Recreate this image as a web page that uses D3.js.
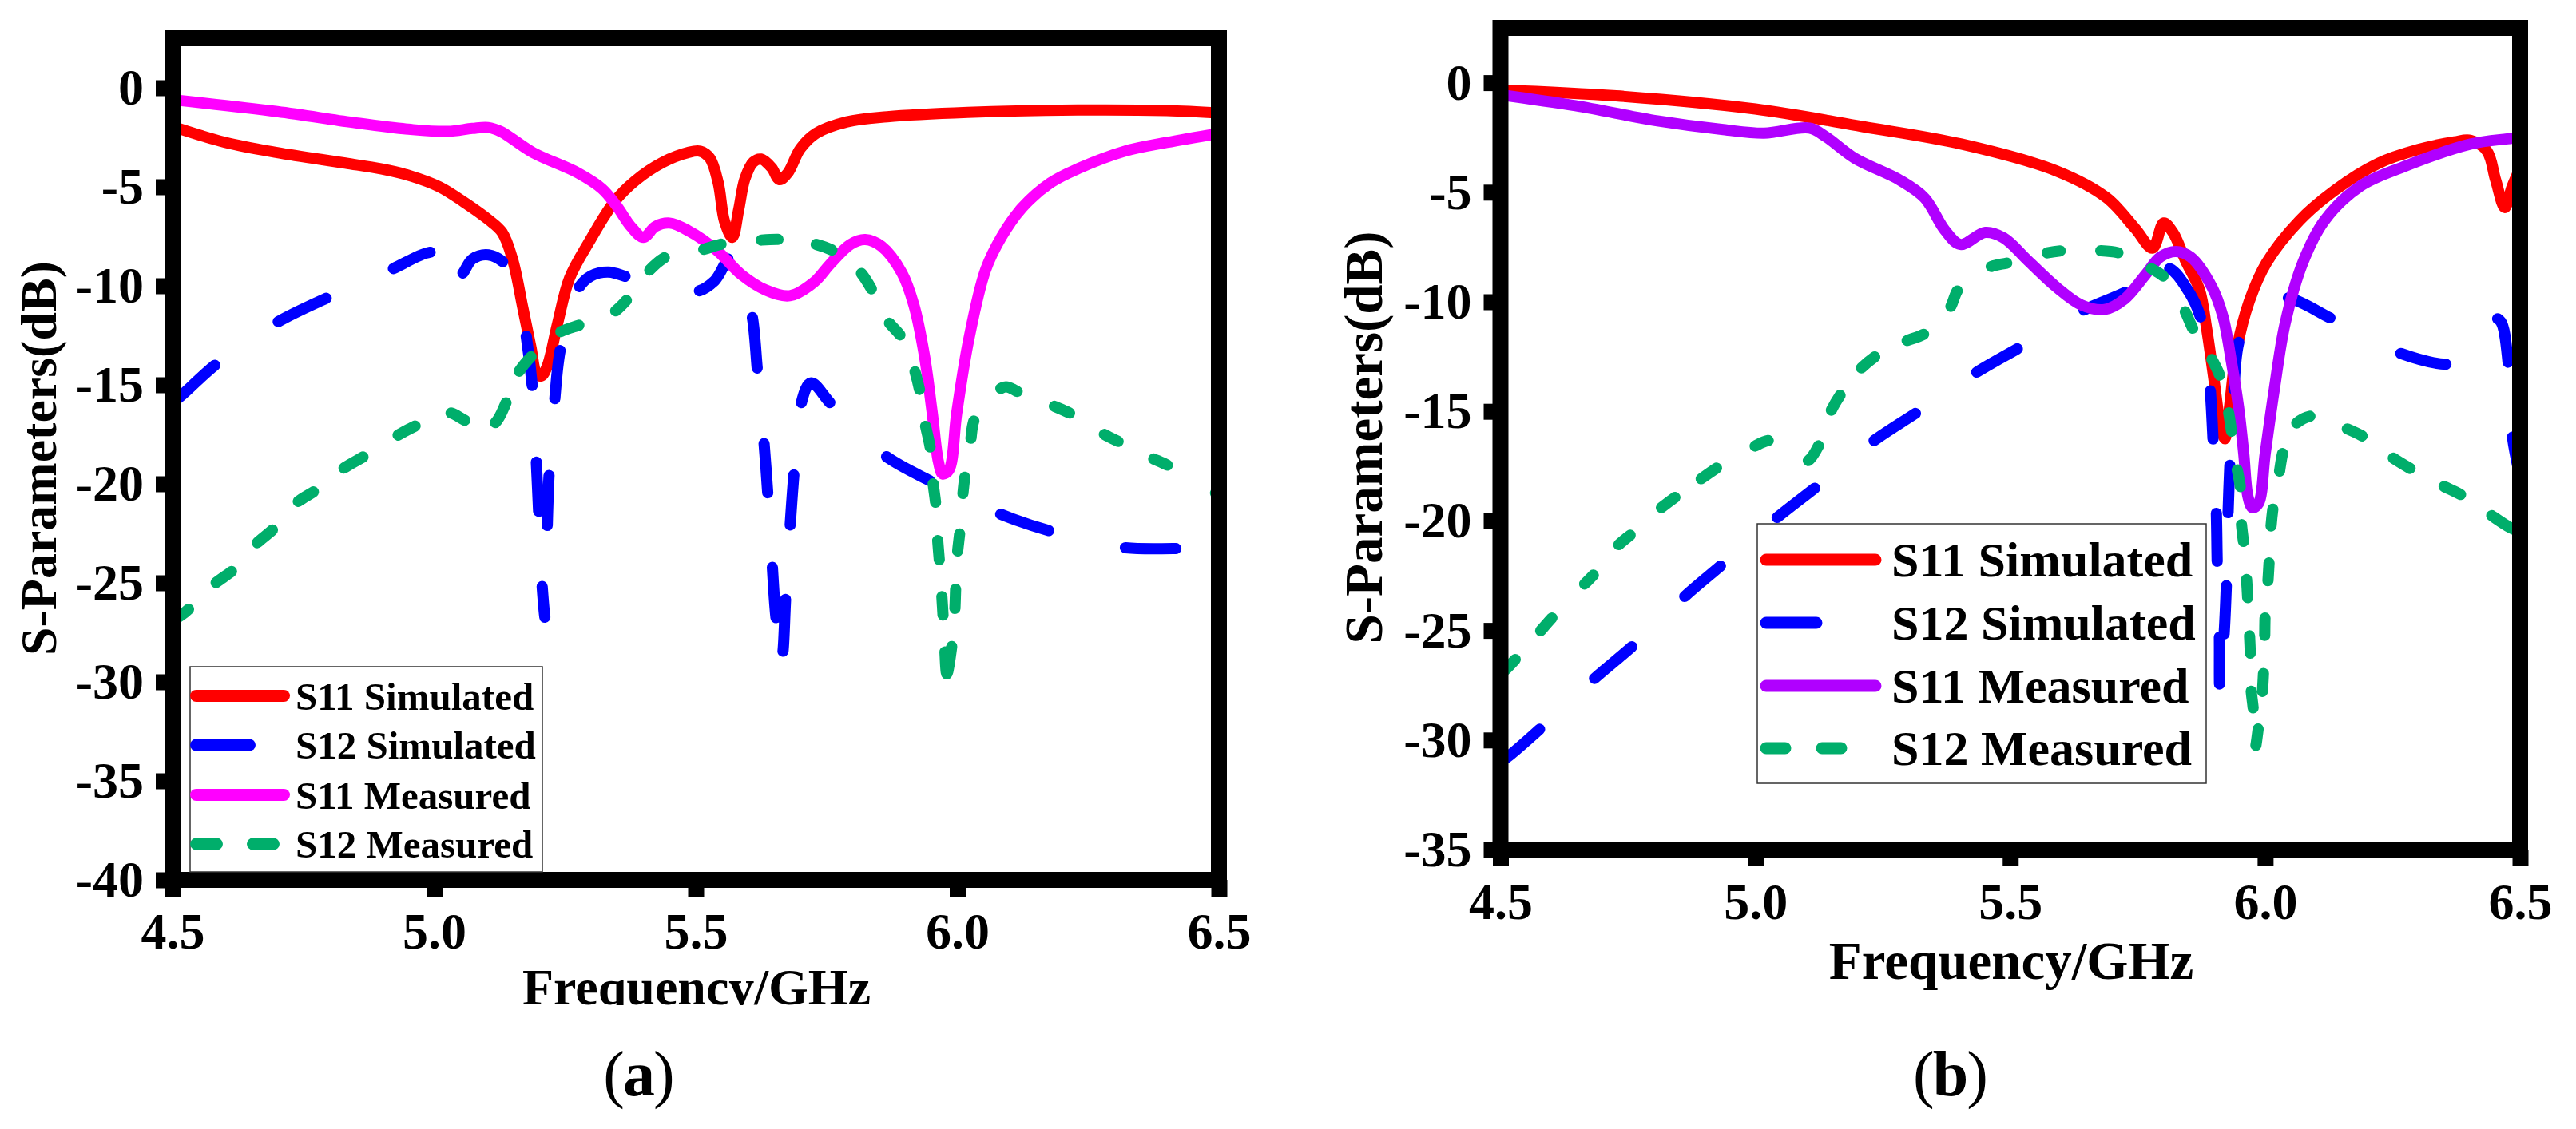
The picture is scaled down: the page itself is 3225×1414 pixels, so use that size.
<!DOCTYPE html>
<html>
<head>
<meta charset="utf-8">
<script src="https://cdn.jsdelivr.net/npm/d3@7"></script>
<style>
    body { margin: 0; background: #fff; }
    text { font-family: "Liberation Serif", serif; font-weight: bold; fill: #000; }
</style>
</head>
<body>
<div class="container"></div>
<script>

// DATA : [frequency GHz, dB]
const xTicks = [4.5, 5.0, 5.5, 6.0, 6.5];
const yTicksA = [0, -5, -10, -15, -20, -25, -30, -35, -40];
const yTicksB = [0, -5, -10, -15, -20, -25, -30, -35];
const names = ["S11 Simulated", "S12 Simulated", "S11 Measured", "S12 Measured"];

const s11SimA = [[4.5,-1.95],[4.6,-2.75],[4.7,-3.27],[4.83,-3.8],[4.9,-4.1],[4.955,-4.45],[5.01,-5.0],[5.057,-5.77],[5.103,-6.64],[5.13,-7.3],[5.15,-8.67],[5.17,-11.17],[5.185,-13.1],[5.196,-14.45],[5.205,-14.55],[5.216,-14.07],[5.236,-11.9],[5.259,-9.6],[5.298,-7.7],[5.344,-5.77],[5.384,-4.7],[5.438,-3.75],[5.485,-3.27],[5.508,-3.2],[5.527,-3.55],[5.543,-4.8],[5.555,-6.73],[5.57,-7.55],[5.582,-6.17],[5.594,-4.6],[5.61,-3.75],[5.625,-3.6],[5.645,-4.03],[5.66,-4.64],[5.676,-4.3],[5.7,-3.07],[5.73,-2.3],[5.789,-1.72],[5.866,-1.46],[6.02,-1.24],[6.23,-1.12],[6.4,-1.15],[6.5,-1.27]];
const s12SimA = [[4.5,-15.9],[4.516,-15.56],[4.586,-13.9],[4.696,-11.9],[4.8,-10.55],[4.916,-9.2],[5.0,-8.3],[5.03,-8.9],[5.05,-9.45],[5.073,-8.65],[5.104,-8.44],[5.136,-8.9],[5.16,-10.2],[5.175,-12.36],[5.188,-15.2],[5.195,-18.7],[5.2,-21.56],[5.206,-25],[5.213,-26.9],[5.216,-22.3],[5.22,-19.4],[5.23,-15.9],[5.242,-13.1],[5.274,-10.2],[5.3,-9.5],[5.332,-9.3],[5.371,-9.56],[5.44,-10.05],[5.5,-10.3],[5.536,-9.75],[5.567,-8.55],[5.585,-9.4],[5.607,-11.4],[5.618,-14.3],[5.63,-17.75],[5.638,-20.6],[5.646,-24],[5.654,-26.9],[5.665,-28.65],[5.672,-25.7],[5.68,-22.3],[5.688,-19.4],[5.7,-16.1],[5.72,-14.9],[5.76,-16],[5.858,-18.5],[5.952,-19.9],[6.075,-21.45],[6.18,-22.4],[6.313,-23.2],[6.423,-23.27],[6.5,-23.3]];
const s11MeasA = [[4.5,-0.6],[4.7,-1.2],[4.845,-1.75],[4.955,-2.1],[5.026,-2.2],[5.073,-2.05],[5.103,-2.0],[5.127,-2.2],[5.189,-3.27],[5.275,-4.3],[5.321,-5.1],[5.349,-5.97],[5.376,-7],[5.4,-7.55],[5.423,-7],[5.45,-6.83],[5.485,-7.2],[5.54,-8.2],[5.587,-9.43],[5.633,-10.2],[5.68,-10.5],[5.726,-9.82],[5.758,-8.87],[5.796,-7.9],[5.824,-7.66],[5.855,-8],[5.894,-9.34],[5.917,-10.97],[5.937,-13.5],[5.952,-16.4],[5.964,-18.9],[5.972,-19.5],[5.984,-19.3],[5.999,-16.4],[6.022,-12.7],[6.054,-9.2],[6.085,-7.5],[6.124,-6.05],[6.178,-4.8],[6.232,-4.07],[6.32,-3.2],[6.4,-2.76],[6.5,-2.3]];
const s12MeasA = [[4.5,-26.9],[4.516,-26.65],[4.536,-26.2],[4.578,-25.1],[4.618,-24.3],[4.657,-23.1],[4.696,-22.2],[4.735,-21],[4.775,-20.3],[4.822,-19.3],[4.87,-18.55],[4.925,-17.63],[4.97,-17],[5.026,-16.4],[5.065,-16.85],[5.112,-17],[5.14,-15.75],[5.159,-14.47],[5.19,-13.45],[5.236,-12.4],[5.283,-11.93],[5.341,-11.37],[5.372,-10.6],[5.407,-9.34],[5.446,-8.5],[5.508,-8.2],[5.555,-7.86],[5.618,-7.7],[5.664,-7.66],[5.723,-7.86],[5.766,-8.27],[5.812,-9.23],[5.839,-10.3],[5.866,-11.73],[5.894,-12.62],[5.917,-14.15],[5.929,-15.4],[5.938,-16.9],[5.949,-18.3],[5.953,-19.8],[5.959,-21.1],[5.962,-22.66],[5.966,-24],[5.97,-25.5],[5.973,-26.8],[5.976,-28.3],[5.98,-29.6],[5.99,-28.06],[5.995,-26.5],[5.997,-25.16],[6.0,-23.6],[6.005,-22.36],[6.01,-20.7],[6.015,-19.5],[6.025,-17.9],[6.034,-16.67],[6.077,-15.3],[6.093,-15.1],[6.12,-15.4],[6.178,-16],[6.22,-16.5],[6.274,-17.4],[6.313,-17.93],[6.368,-18.65],[6.407,-19.13],[6.486,-20.4],[6.5,-20.5]];

const s11SimB = [[4.5,-0.33],[4.727,-0.6],[5.0,-1.2],[5.21,-2],[5.404,-2.8],[5.591,-4.03],[5.689,-5.25],[5.745,-6.65],[5.779,-7.55],[5.801,-6.4],[5.819,-6.83],[5.844,-8.13],[5.871,-9.44],[5.885,-11.2],[5.899,-13.46],[5.913,-15.73],[5.921,-16.25],[5.928,-15.2],[5.944,-12.2],[5.969,-9.96],[6.003,-8.2],[6.067,-6.3],[6.137,-4.9],[6.222,-3.68],[6.3,-3.05],[6.371,-2.7],[6.403,-2.63],[6.435,-3.12],[6.452,-4.44],[6.47,-5.7],[6.484,-4.76],[6.5,-3.9]];
const s12SimB = [[4.5,-31],[4.518,-30.7],[4.582,-29.4],[4.679,-27.3],[4.763,-25.63],[4.856,-23.56],[4.937,-21.95],[5.037,-19.95],[5.122,-18.4],[5.227,-16.43],[5.32,-15.0],[5.428,-13.3],[5.52,-12.06],[5.638,-10.45],[5.731,-9.5],[5.807,-8.45],[5.85,-9.53],[5.875,-10.84],[5.885,-12.2],[5.892,-13.9],[5.898,-16.42],[5.904,-19.48],[5.906,-22],[5.91,-25.14],[5.911,-27.6],[5.919,-25.33],[5.924,-22.8],[5.927,-19.8],[5.931,-17.3],[5.938,-14.16],[5.95,-11.7],[5.985,-10.1],[6.039,-9.8],[6.133,-10.8],[6.259,-12.3],[6.361,-12.85],[6.41,-12.5],[6.43,-11.5],[6.449,-10.75],[6.462,-10.9],[6.477,-12.9],[6.484,-16],[6.5,-18]];
const s11MeasB = [[4.5,-0.55],[4.647,-1.05],[4.808,-1.74],[4.937,-2.14],[5.017,-2.3],[5.106,-2.07],[5.138,-2.46],[5.195,-3.45],[5.283,-4.44],[5.332,-5.26],[5.372,-6.74],[5.402,-7.38],[5.451,-6.83],[5.487,-7.08],[5.535,-8.13],[5.591,-9.34],[5.64,-10.15],[5.685,-10.35],[5.724,-9.88],[5.766,-8.74],[5.794,-7.96],[5.825,-7.7],[5.854,-7.96],[5.896,-9.34],[5.917,-10.66],[5.934,-12.76],[5.948,-14.85],[5.958,-16.94],[5.966,-18.87],[5.975,-19.4],[5.987,-19.2],[6.0,-16.94],[6.018,-13.98],[6.039,-11.0],[6.074,-8.2],[6.116,-6.3],[6.186,-4.73],[6.27,-3.85],[6.403,-2.8],[6.484,-2.53],[6.5,-2.45]];
const s12MeasB = [[4.5,-27],[4.518,-26.6],[4.534,-26.2],[4.574,-25.14],[4.606,-24.3],[4.66,-23],[4.687,-22.35],[4.727,-21.2],[4.76,-20.54],[4.81,-19.5],[4.848,-18.83],[4.888,-18.17],[4.93,-17.5],[4.993,-16.66],[5.033,-16.33],[5.098,-17.3],[5.127,-16.43],[5.146,-15.1],[5.17,-14.13],[5.203,-13.14],[5.24,-12.42],[5.291,-11.83],[5.336,-11.4],[5.38,-10.35],[5.4,-9.37],[5.456,-8.45],[5.5,-8.2],[5.565,-7.8],[5.605,-7.66],[5.67,-7.66],[5.718,-7.8],[5.77,-8.4],[5.805,-8.94],[5.84,-10.3],[5.861,-11.35],[5.892,-12.48],[5.913,-13.5],[5.927,-14.9],[5.935,-16.07],[5.944,-17.5],[5.952,-18.6],[5.953,-20],[5.958,-21.1],[5.963,-22.5],[5.966,-23.67],[5.969,-25.07],[5.971,-26.2],[5.972,-27.6],[5.977,-28.7],[5.98,-30.4],[5.987,-29.35],[5.994,-27.96],[5.997,-26.8],[5.999,-25.4],[6.0,-24.27],[6.005,-22.9],[6.008,-21.75],[6.011,-20.4],[6.016,-19.3],[6.027,-17.9],[6.036,-16.77],[6.057,-15.64],[6.095,-15.2],[6.154,-15.73],[6.196,-16.2],[6.245,-17.04],[6.29,-17.68],[6.344,-18.35],[6.389,-18.87],[6.438,-19.66],[6.48,-20.3],[6.5,-20.5]];

// COLORS
const RED = "#ff0000", BLUE = "#0000ff", MAGENTA = "#ff00ff", PURPLE = "#b000ff", GREEN = "#00ae6b";

// how much shorter than the read dash ends each drawn dash is, round caps add it back
const DASH_TRIM = 9;

// CANVAS
const canvas = d3.select(".container").append("svg")
    .attr("width", 3225)
    .attr("height", 1414)
    .attr("viewBox", "0 0 3225 1414")
    .style("display", "block");

canvas.append("rect").attr("width", 3225).attr("height", 1414).attr("fill", "#fff");

// turns [first point, last point] runs into a stroke-dasharray for one path
function dashFrom(runs, values, line, g) {
    const probe = g.append("path").attr("fill", "none");
    const lengthAt = i => {
        probe.attr("d", line(values.slice(0, i + 1)));
        return probe.node().getTotalLength();
    };
    const parts = [];
    runs.forEach((r, k) => {
        parts.push(lengthAt(r[1]) - lengthAt(r[0]) - DASH_TRIM);
        parts.push(k < runs.length - 1 ? lengthAt(runs[k + 1][0]) - lengthAt(r[1]) + DASH_TRIM : 9999);
    });
    probe.remove();
    return parts.map(v => v.toFixed(1)).join(" ");
}

// PANEL
function drawPanel(p) {
    const xScale = d3.scaleLinear().domain([4.5, 6.5]).range([p.left, p.right]);
    const yScale = d3.scaleLinear().domain([p.yMin, 2.5]).range([p.bottom, p.top]);
    const line = d3.line()
        .x(d => xScale(d[0]))
        .y(d => yScale(d[1]))
        .curve(d3.curveCatmullRom.alpha(0.5));

    const g = canvas.append("g");

    // SERIES
    p.series.forEach(s => {
        g.append("path")
            .attr("d", line(s.values))
            .attr("fill", "none")
            .attr("stroke", s.color)
            .attr("stroke-width", 14)
            .attr("stroke-linecap", "round")
            .attr("stroke-linejoin", "round")
            .attr("stroke-dasharray", s.runs ? dashFrom(s.runs, s.values, line, g) : null)
            .attr("stroke-dashoffset", s.runs ? -DASH_TRIM / 2 : null);
    });

    // AXES
    const xAxis = d3.axisBottom(xScale).tickValues(xTicks).tickSize(21).tickPadding(p.xPad).tickFormat(d3.format(".1f"));
    const yAxis = d3.axisLeft(yScale).tickValues(p.yTicks).tickSize(21).tickPadding(p.yPad).tickFormat(d => String(d));
    [g.append("g").attr("transform", `translate(0, ${p.bottom})`).call(xAxis),
     g.append("g").attr("transform", `translate(${p.left}, 0)`).call(yAxis)].forEach(a => {
        a.select(".domain").remove();
        a.selectAll("line").attr("stroke", "#000").attr("stroke-width", 20);
        a.selectAll("text").style("font-size", "64px").style("font-family", "'Liberation Serif', serif");
    });

    // FRAME
    g.append("rect")
        .attr("x", p.left).attr("y", p.top)
        .attr("width", p.right - p.left).attr("height", p.bottom - p.top)
        .attr("fill", "none").attr("stroke", "#000").attr("stroke-width", 20);

    // AXIS LABELS
    const xLabel = g.append("text")
        .attr("x", p.xLabelX).attr("y", p.xLabelY)
        .attr("text-anchor", "middle")
        .style("font-size", p.labelSize + "px")
        .text("Frequency/GHz");
    if (p.xLabelClip) {
        const id = "clip" + p.caption[1];
        g.append("clipPath").attr("id", id).append("rect")
            .attr("x", p.left).attr("y", p.xLabelY - 80)
            .attr("width", p.right - p.left).attr("height", 80 + p.xLabelClip);
        xLabel.attr("clip-path", `url(#${id})`);
    }
    g.append("text")
        .attr("transform", `translate(${p.yLabelX}, ${p.yLabelY}) rotate(-90)`)
        .attr("text-anchor", "middle")
        .style("font-size", p.labelSize + "px")
        .text("S-Parameters(dB)");

    // LEGEND
    const lg = p.legend;
    g.append("rect")
        .attr("x", lg.x).attr("y", lg.y).attr("width", lg.w).attr("height", lg.h)
        .attr("fill", "#fff").attr("stroke", "#333").attr("stroke-width", 1.5);
    p.series.forEach((s, i) => {
        g.append("line")
            .attr("x1", lg.lineX1).attr("x2", s.legendEnd)
            .attr("y1", lg.rows[i] - lg.lineUp).attr("y2", lg.rows[i] - lg.lineUp)
            .attr("stroke", s.color)
            .attr("stroke-width", 15)
            .attr("stroke-linecap", "round")
            .attr("stroke-dasharray", s.legendDash || null);
        g.append("text")
            .attr("x", lg.textX).attr("y", lg.rows[i])
            .style("font-size", lg.size + "px")
            .text(names[i]);
    });

    // CAPTION
    const cap = g.append("text")
        .attr("x", p.captionX).attr("y", 1372)
        .attr("text-anchor", "middle")
        .style("font-size", "80px")
        .style("letter-spacing", "-2px");
    cap.append("tspan").style("font-weight", "normal").text("(");
    cap.append("tspan").text(p.caption[1]);
    cap.append("tspan").style("font-weight", "normal").text(")");
}

drawPanel({
    left: 216, right: 1526, top: 48, bottom: 1102, yMin: -40,
    yTicks: yTicksA, xPad: 20, yPad: 15,
    caption: "(a)", captionX: 799,
    xLabelX: 872, xLabelY: 1258, xLabelClip: 1, yLabelX: 70, yLabelY: 574, labelSize: 64,
    legend: { x: 238, y: 835, w: 441, h: 257, lineX1: 245.5, lineUp: 17, textX: 370, size: 49, rows: [888.5, 950, 1012.5, 1074] },
    series: [
        { values: s11SimA, color: RED, legendEnd: 355.5 },
        { values: s12SimA, color: BLUE, legendDash: "67 500", legendEnd: 312.5,
          runs: [[0,2],[3,4],[5,6],[8,11],[13,14],[15,16],[17,18],[19,20],[21,22],[23,26],[28,30],[32,33],[34,35],[36,37],[38,39],[40,41],[42,44],[45,46],[47,48],[49,50]] },
        { values: s11MeasA, color: MAGENTA, legendEnd: 355.5 },
        { values: s12MeasA, color: GREEN, legendDash: "26 45", legendEnd: 343,
          runs: [[0,2],[3,4],[5,6],[7,8],[9,10],[11,12],[13,14],[15,16],[17,18],[19,20],[21,22],[23,24],[25,26],[27,28],[29,30],[31,32],[33,34],[35,36],[37,38],[39,40],[41,42],[43,44],[45,47],[48,49],[50,51],[52,53],[54,55],[56,58],[59,60],[61,62],[63,64],[65,66]] }
    ]
});

drawPanel({
    left: 1878.5, right: 3155, top: 35, bottom: 1064, yMin: -35,
    yTicks: yTicksB, xPad: 21, yPad: 15,
    caption: "(b)", captionX: 2441,
    xLabelX: 2518, xLabelY: 1226, yLabelX: 1730, yLabelY: 548, labelSize: 67,
    legend: { x: 2200, y: 656, w: 562, h: 325, lineX1: 2211, lineUp: 21, textX: 2368, size: 62, rows: [722, 801, 880, 958] },
    series: [
        { values: s11SimB, color: RED, legendEnd: 2348 },
        { values: s12SimB, color: BLUE, legendDash: "63 500", legendEnd: 2274,
          runs: [[0,2],[3,4],[5,6],[7,8],[9,10],[11,12],[13,14],[15,17],[19,20],[21,22],[23,24],[25,26],[27,28],[29,30],[32,33],[34,35],[38,40],[41,42]] },
        { values: s11MeasB, color: PURPLE, legendEnd: 2348 },
        { values: s12MeasB, color: GREEN, legendDash: "24 46", legendEnd: 2351,
          runs: [[0,2], ...d3.range(3, 69, 2).map(i => [i, i + 1]), [69,71]] }
    ]
});

</script>
</body>
</html>
